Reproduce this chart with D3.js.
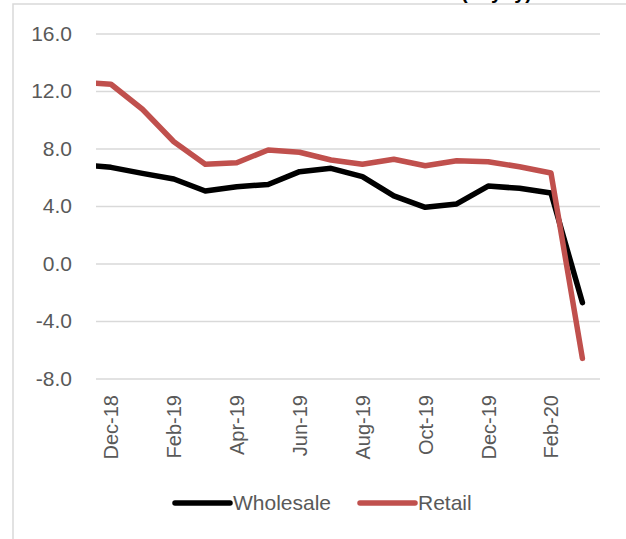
<!DOCTYPE html>
<html>
<head>
<meta charset="utf-8">
<script src="https://cdn.jsdelivr.net/npm/d3@7"></script>
<style>
  html, body { margin: 0; padding: 0; background: #fff; }
  svg { display: block; }
  text { font-family: "Liberation Sans", Arial, sans-serif; }
</style>
</head>
<body>
<svg id="chart" width="626" height="539"></svg>
<script>
// ---- data ----
const months = ["Nov-18","Dec-18","Jan-19","Feb-19","Mar-19","Apr-19","May-19","Jun-19","Jul-19",
                "Aug-19","Sep-19","Oct-19","Nov-19","Dec-19","Jan-20","Feb-20","Mar-20"];
const wholesale = [6.88, 6.69, 6.27, 5.88, 5.04, 5.34, 5.50, 6.39, 6.62, 6.04, 4.70, 3.91, 4.14, 5.39, 5.23, 4.90, -2.72];
const retail    = [12.60, 12.47, 10.73, 8.47, 6.90, 7.01, 7.90, 7.74, 7.20, 6.90, 7.25, 6.80, 7.15, 7.08, 6.73, 6.30, -6.60];
const xTickLabels = ["Dec-18","Feb-19","Apr-19","Jun-19","Aug-19","Oct-19","Dec-19","Feb-20"];
const yTicks = [-8, -4, 0, 4, 8, 12, 16];
const seriesNames = ["Wholesale", "Retail"];
const seriesColors = ["#000000", "#C0504D"];
const titleText = "(% yoy)";

// ---- layout ----
const svg = d3.select("#chart");
const plotLeft = 96, plotRight = 600, plotTop = 33.5, plotBottom = 378.5;

svg.append("rect").attr("x", 13).attr("y", 4).attr("width", 700).attr("height", 600)
  .attr("fill", "none").attr("stroke", "#d9d9d9").attr("stroke-width", 1.5);

svg.append("text").attr("x", 532).attr("y", -1).attr("text-anchor", "end")
  .attr("font-size", 20).attr("font-weight", "bold").attr("fill", "#000").text(titleText);

const x = d3.scaleLinear().domain([0.523, 16.56]).range([plotLeft, plotRight]);
const y = d3.scaleLinear().domain([-8, 16]).range([plotBottom, plotTop]);

// y axis with gridlines
const fmt = d3.format(".1f");
const yAxis = d3.axisLeft(y).tickValues(yTicks).tickFormat(d => fmt(d).replace("\u2212", "-"))
  .tickSize(-(plotRight - plotLeft)).tickPadding(24);
const gy = svg.append("g").attr("transform", `translate(${plotLeft},0)`).call(yAxis);
gy.select(".domain").remove();
gy.selectAll(".tick line").attr("stroke", "#d9d9d9").attr("stroke-width", 1.5);
gy.selectAll(".tick text").attr("fill", "#595959").attr("font-size", 21)
  .attr("font-family", "Liberation Sans, Arial, sans-serif");

// x axis
const xIdx = xTickLabels.map(l => months.indexOf(l));
const xAxis = d3.axisBottom(x).tickValues(xIdx).tickFormat(i => months[i]).tickSize(0);
const gx = svg.append("g").attr("transform", `translate(0,${plotBottom})`).call(xAxis);
gx.select(".domain").remove();
gx.selectAll(".tick text")
  .attr("transform", "rotate(-90)")
  .attr("x", -16.5).attr("y", 0).attr("dy", "0.35em")
  .attr("text-anchor", "end")
  .attr("fill", "#595959").attr("font-size", 20)
  .attr("font-family", "Liberation Sans, Arial, sans-serif");

// clip
svg.append("clipPath").attr("id", "plotclip").append("rect")
  .attr("x", plotLeft).attr("y", 0).attr("width", plotRight - plotLeft).attr("height", 539);

const line = d3.line().x((d, i) => x(i)).y(d => y(d));
const g = svg.append("g").attr("clip-path", "url(#plotclip)");
[wholesale, retail].forEach((s, k) => {
  g.append("path").datum(s).attr("d", line)
    .attr("fill", "none").attr("stroke", seriesColors[k]).attr("stroke-width", 5.5)
    .attr("stroke-linejoin", "round").attr("stroke-linecap", "round");
});

// legend
const legendX = [175, 360];
seriesNames.forEach((n, k) => {
  svg.append("line").attr("x1", legendX[k]).attr("x2", legendX[k] + 55)
    .attr("y1", 503).attr("y2", 503)
    .attr("stroke", seriesColors[k]).attr("stroke-width", 5.5).attr("stroke-linecap", "round");
  svg.append("text").attr("x", legendX[k] + 58).attr("y", 503).attr("dy", "0.35em")
    .attr("fill", "#595959").attr("font-size", 21).text(n);
});
</script>
</body>
</html>
